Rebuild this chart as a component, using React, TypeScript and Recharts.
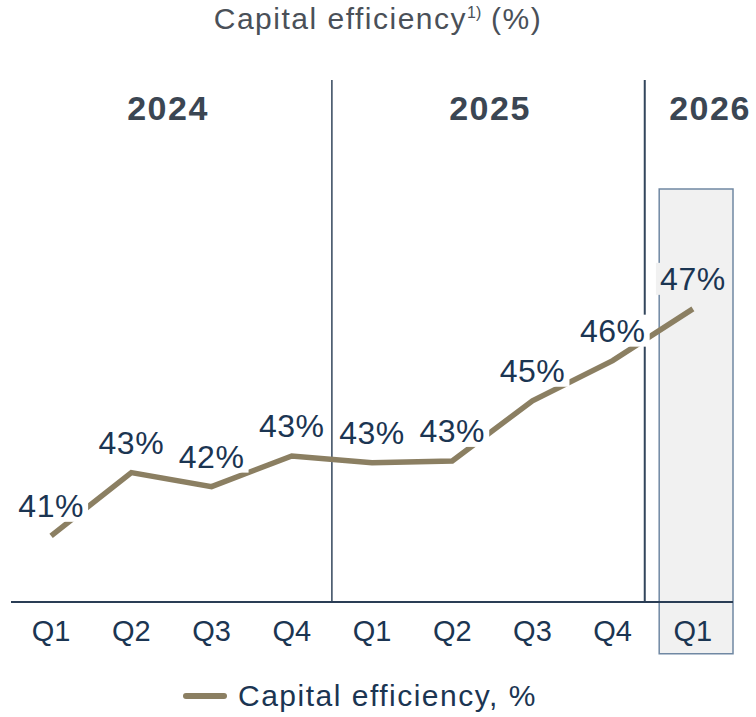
import { LabelList, Line, LineChart, ReferenceArea, ReferenceLine, XAxis, YAxis } from "recharts";

const quarters = ["Q1", "Q2", "Q3", "Q4", "Q1", "Q2", "Q3", "Q4", "Q1"];
const efficiency = [41.0, 42.67, 42.3, 43.11, 42.93, 42.98, 44.57, 45.63, 47.0];
const years = ["2024", "2025", "2026"];

const data = quarters.map((q, i) => ({ idx: i, quarter: q, value: efficiency[i] }));

const FONT = "'Liberation Sans', Arial, Helvetica, sans-serif";
const LINE = "#8b7f62";
const NAVY = "#1b3552";
const SLATE = "#3b4653";

function PointLabel(props: any) {
  const { x, y, value, index } = props;
  if (x == null || y == null) return null;
  const text = `${Math.round(value)}%`;
  const cy = y - 30;
  const last = index === efficiency.length - 1;
  return (
    <g>
      <rect x={x - 37} y={cy - 16} width={74} height={32} fill={last ? "#f1f1f1" : "#fff"} />
      <text
        x={x}
        y={cy}
        textAnchor="middle"
        dominantBaseline="central"
        fontSize={32}
        letterSpacing={0.5}
        fill={NAVY}
        fontFamily={FONT}
      >
        {text}
      </text>
    </g>
  );
}

export default function App() {
  return (
    <div style={{ position: "absolute", left: 0, top: 0, width: 756, height: 717, background: "#fff", fontFamily: FONT }}>
      <div
        style={{
          position: "absolute",
          left: 0,
          width: 756,
          top: 2,
          textAlign: "center",
          fontSize: 30,
          letterSpacing: 1.5,
          color: "#4a5058",
        }}
      >
        Capital efficiency<sup style={{ fontSize: 16, letterSpacing: 0 }}>1)</sup> (%)
      </div>
      {years.map((y, i) => (
        <div
          key={y}
          style={{
            position: "absolute",
            top: 89,
            left: [168, 490, 710][i] - 60,
            width: 120,
            textAlign: "center",
            fontSize: 34,
            fontWeight: 700,
            color: SLATE,
            letterSpacing: 1.5,
          }}
        >
          {y}
        </div>
      ))}
      <LineChart width={756} height={717} data={data} margin={{ top: 80, left: 11, right: 23, bottom: 75 }}>
        <XAxis
          type="number"
          dataKey="idx"
          domain={[-0.5, 8.5]}
          ticks={[0, 1, 2, 3, 4, 5, 6, 7, 8]}
          tickFormatter={(v: number) => quarters[v]}
          height={40}
          tickLine={false}
          tickSize={6}
          tickMargin={12}
          axisLine={{ stroke: "#2a3d55", strokeWidth: 2 }}
          tick={{ fontSize: 29, fill: NAVY, fontFamily: FONT }}
          interval={0}
        />
        <YAxis hide domain={[39.25, 53.05]} />
        <ReferenceArea
          x1={7.58}
          x2={8.5}
          y1={37.88}
          y2={50.17}
          ifOverflow="visible"
          fill="#f1f1f1"
          fillOpacity={1}
          stroke="#7088a3"
          strokeWidth={1.5}
        />
        <ReferenceLine x={3.5} stroke="#33465c" strokeWidth={1.5} />
        <ReferenceLine x={7.4} stroke="#33465c" strokeWidth={2} />
        <Line
          type="linear"
          dataKey="value"
          stroke={LINE}
          strokeWidth={5.5}
          dot={false}
          activeDot={false}
          isAnimationActive={false}
        >
          <LabelList dataKey="value" content={<PointLabel />} />
        </Line>
      </LineChart>
      <div style={{ position: "absolute", top: 679, left: 183, display: "flex", alignItems: "center" }}>
        <div style={{ width: 44, height: 6, borderRadius: 3, background: LINE }} />
        <span style={{ marginLeft: 11, fontSize: 30, letterSpacing: 1.5, color: NAVY }}>Capital efficiency, %</span>
      </div>
    </div>
  );
}
